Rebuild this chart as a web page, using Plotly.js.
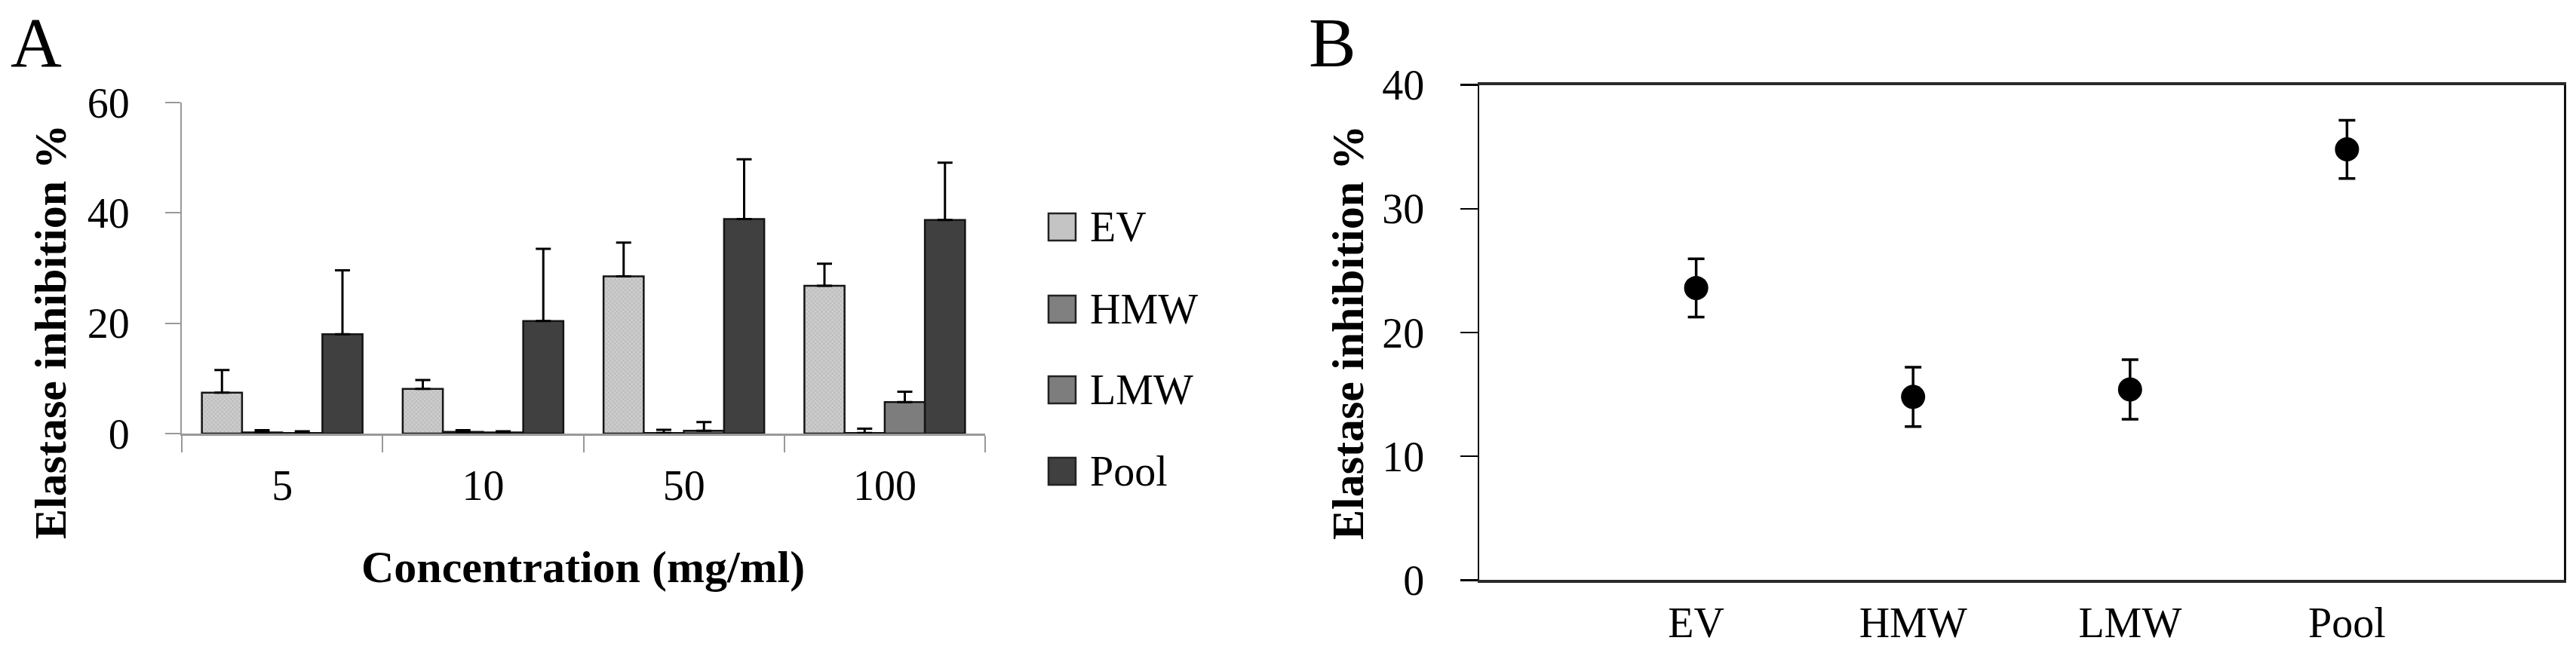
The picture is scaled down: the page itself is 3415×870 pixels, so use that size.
<!DOCTYPE html>
<html>
<head>
<meta charset="utf-8">
<script src="https://cdn.plot.ly/plotly-3.0.1.min.js"></script>
<style>html,body{margin:0;padding:0;background:#fff;}#chart{width:3415px;height:870px;}</style>
</head>
<body>
<div id="chart"></div>
<script>
// ---- data ----
const concentrations = ['5', '10', '50', '100'];
const seriesNames = ['EV', 'HMW', 'LMW', 'Pool'];
const evValues   = [7.4, 8.1, 28.5, 26.8];
const evErrors   = [4.1, 1.6, 6.1, 4.0];
const hmwValues  = [0.2, 0.3, 0.1, 0.1];
const hmwErrors  = [0.4, 0.3, 0.6, 0.8];
const lmwValues  = [0.1, 0.2, 0.5, 5.7];
const lmwErrors  = [0.3, 0.2, 1.6, 1.9];
const poolValues = [18.0, 20.4, 38.9, 38.7];
const poolErrors = [11.6, 13.1, 10.8, 10.4];
const fractions  = ['EV', 'HMW', 'LMW', 'Pool'];
const meanInhibition = [23.6, 14.8, 15.4, 34.8];
const meanErrors     = [2.35, 2.4, 2.4, 2.35];
const yTicksA = [0, 20, 40, 60];
const yTicksB = [0, 10, 20, 30, 40];

// ---- layout helpers ----
const W = 3415, H = 870;
const px = x => x / W;
const py = y => 1 - y / H;
const serif = 'Liberation Serif, Times New Roman, serif';
const barColors = ['#c4c4c4', '#808080', '#7d7d7d', '#404040'];

const barSeries = [
  [evValues, evErrors], [hmwValues, hmwErrors], [lmwValues, lmwErrors], [poolValues, poolErrors]
];

const traces = barSeries.map((s, i) => {
  const t = {
    type: 'bar', x: concentrations, y: s[0], name: seriesNames[i],
    xaxis: 'x', yaxis: 'y', showlegend: false,
    marker: { color: barColors[i], line: { color: '#151515', width: 2.5 } },
    error_y: { type: 'data', symmetric: false, array: s[1], arrayminus: s[1].map(() => 0),
               color: '#000', thickness: 3, width: 10 }
  };
  if (i === 0) {
    t.marker.pattern = { shape: 'x', fgcolor: '#a9a9a9', bgcolor: '#cdcdcd', size: 4, solidity: 0.25 };
  }
  return t;
});

traces.push({
  type: 'scatter', mode: 'markers', x: fractions, y: meanInhibition,
  xaxis: 'x2', yaxis: 'y2', showlegend: false,
  marker: { color: '#000', size: 32 },
  error_y: { type: 'data', array: meanErrors, color: '#000', thickness: 3.5, width: 11 }
});

const tickFont = { family: serif, size: 56, color: '#000' };

// legend drawn as squares + text
const legendY = [301, 410, 517, 625];
const shapes = seriesNames.map((n, i) => ({
  type: 'rect', xref: 'paper', yref: 'paper',
  x0: px(1390), x1: px(1426), y0: py(legendY[i] + 18), y1: py(legendY[i] - 18),
  fillcolor: barColors[i], line: { color: '#222', width: 2.5 }
}));
const annotations = seriesNames.map((n, i) => ({
  xref: 'paper', yref: 'paper', x: px(1443), y: py(legendY[i]), xanchor: 'left', yanchor: 'middle',
  text: n, showarrow: false, font: { family: serif, size: 56, color: '#000' }
}));
annotations.push(
  { xref: 'paper', yref: 'paper', x: px(12), y: py(56), xanchor: 'left', yanchor: 'middle',
    text: 'A', showarrow: false, font: { family: serif, size: 94, color: '#000' } },
  { xref: 'paper', yref: 'paper', x: px(1733), y: py(56), xanchor: 'left', yanchor: 'middle',
    text: 'B', showarrow: false, font: { family: serif, size: 94, color: '#000' } },
  { xref: 'paper', yref: 'paper', x: px(67), y: py(440), xanchor: 'center', yanchor: 'middle',
    textangle: -90, text: '<b>Elastase inhibition %</b>', showarrow: false,
    font: { family: serif, size: 60, color: '#000' } },
  { xref: 'paper', yref: 'paper', x: px(773), y: py(752), xanchor: 'center', yanchor: 'middle',
    text: '<b>Concentration (mg/ml)</b>', showarrow: false,
    font: { family: serif, size: 60, color: '#000' } },
  { xref: 'paper', yref: 'paper', x: px(1787), y: py(441), xanchor: 'center', yanchor: 'middle',
    textangle: -90, text: '<b>Elastase inhibition %</b>', showarrow: false,
    font: { family: serif, size: 60, color: '#000' } }
);

const layout = {
  width: W, height: H,
  margin: { l: 0, r: 0, t: 0, b: 0, pad: 0 },
  paper_bgcolor: '#fff', plot_bgcolor: 'rgba(0,0,0,0)',
  barmode: 'group', bargap: 0.2, bargroupgap: 0,
  showlegend: false,
  xaxis: {
    domain: [px(241), px(1306)], anchor: 'y', type: 'category',
    tickson: 'boundaries', ticks: 'outside', ticklen: 22, tickwidth: 2, tickcolor: '#999',
    showline: true, linecolor: '#999', linewidth: 3, showgrid: false, zeroline: false,
    tickfont: tickFont, ticklabelstandoff: 18
  },
  yaxis: {
    domain: [py(575), py(136)], anchor: 'x', range: [0, 60], tickvals: yTicksA,
    ticks: 'outside', ticklen: 20, tickwidth: 2, tickcolor: '#999',
    showline: true, linecolor: '#999', linewidth: 2, showgrid: false, zeroline: false,
    tickfont: tickFont, ticklabelstandoff: 36
  },
  xaxis2: {
    domain: [px(1961), px(3399)], anchor: 'y2', type: 'category', range: [-1, 4],
    ticks: '', showline: true, mirror: true, linecolor: '#2a2a2a', linewidth: 4,
    showgrid: false, zeroline: false, tickfont: tickFont, ticklabelstandoff: 4
  },
  yaxis2: {
    domain: [py(769.3), py(112.7)], anchor: 'x2', range: [0, 40], tickvals: yTicksB,
    ticks: 'outside', ticklen: 23, tickwidth: 2.5, tickcolor: '#000',
    showline: true, mirror: true, linecolor: '#111', linewidth: 2.5,
    showgrid: false, zeroline: false, tickfont: tickFont, ticklabelstandoff: 36
  },
  shapes: shapes,
  annotations: annotations
};

Plotly.newPlot('chart', traces, layout, { staticPlot: true, displayModeBar: false });
</script>
</body>
</html>
